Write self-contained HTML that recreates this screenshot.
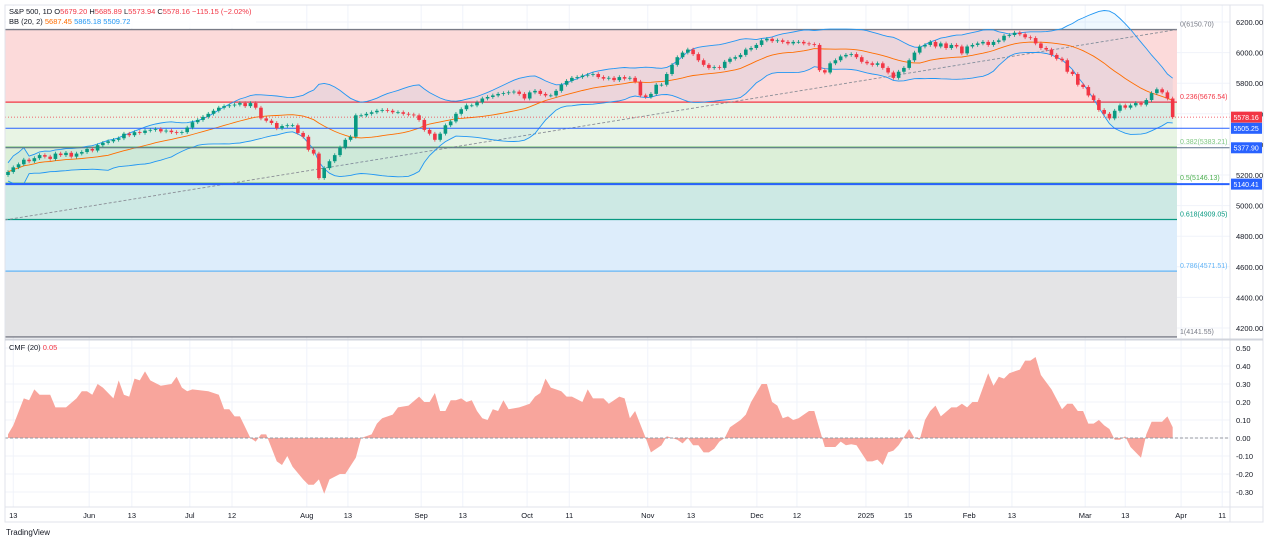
<!DOCTYPE html>
<html><head><meta charset="utf-8"><style>
html,body{margin:0;padding:0;background:#fff;width:1269px;height:542px;overflow:hidden;font-family:"Liberation Sans",sans-serif}
svg{position:absolute;left:0;top:0}
</style></head><body>
<svg id="c" width="1269" height="542"></svg>
<script>
const closes=[5220,5250,5270,5300,5290,5310,5330,5320,5305,5340,5330,5345,5320,5340,5350,5370,5360,5395,5410,5420,5430,5440,5470,5460,5480,5475,5490,5495,5500,5485,5490,5480,5475,5480,5510,5545,5560,5580,5600,5620,5640,5650,5655,5660,5670,5650,5670,5640,5570,5555,5540,5505,5520,5525,5525,5475,5450,5365,5340,5180,5245,5290,5330,5380,5430,5450,5590,5590,5600,5610,5620,5625,5620,5610,5610,5600,5595,5590,5560,5495,5470,5430,5470,5525,5550,5600,5630,5655,5655,5675,5700,5710,5720,5730,5735,5740,5745,5730,5700,5740,5750,5730,5720,5720,5750,5790,5815,5835,5840,5850,5855,5860,5840,5830,5835,5820,5840,5830,5835,5810,5720,5710,5730,5790,5790,5860,5920,5970,6000,6020,5990,5950,5920,5900,5905,5900,5940,5960,5970,5985,6020,6030,6050,6080,6090,6075,6080,6070,6060,6070,6070,6060,6055,6050,5885,5870,5930,5950,5975,5985,5990,5970,5940,5930,5920,5930,5900,5870,5835,5875,5900,5950,6000,6040,6050,6070,6040,6060,6030,6050,6040,5995,6040,6050,6060,6070,6050,6070,6080,6110,6115,6130,6120,6100,6095,6060,6030,6020,5985,5960,5950,5875,5860,5790,5775,5720,5690,5625,5600,5570,5620,5655,5640,5655,5670,5660,5690,5735,5760,5740,5700,5578];
const firstOpen=5200;
const cmfBar=[0,1,3,4,5,6,8,9,10,11,13,14,15,16,17,18,20,21,22,23,24,25,26,27,29,31,32,33,34,35,38,40,41,42,43,44,46,47,48,49,51,52,53,54,56,57,58,59,60,61,63,64,66,67,69,70,71,73,74,76,78,79,80,81,82,83,84,85,86,87,88,89,90,91,92,93,94,95,97,98,99,100,101,102,103,105,106,107,109,110,111,113,114,115,116,117,118,119,121,122,124,125,127,128,129,130,131,132,133,134,135,136,137,139,140,141,143,144,145,146,147,148,149,150,152,153,155,157,158,159,160,161,163,164,165,166,167,168,169,171,172,173,174,175,176,177,179,180,181,182,183,184,186,187,188,189,190,192,193,194,195,196,198,200,201,202,203,204,205,206,207,208,209,210,211,212,213,215,216,217,219,220,221];
const cmfValue=[0.02,0.07,0.22,0.21,0.27,0.24,0.24,0.17,0.17,0.17,0.22,0.26,0.26,0.24,0.30,0.28,0.22,0.32,0.24,0.23,0.33,0.32,0.37,0.32,0.29,0.30,0.34,0.28,0.26,0.27,0.26,0.24,0.16,0.16,0.12,0.12,0,-0.02,0.02,0.02,-0.13,-0.15,-0.10,-0.16,-0.23,-0.26,-0.26,-0.23,-0.31,-0.23,-0.20,-0.20,-0.11,0,0.02,0.08,0.11,0.13,0.17,0.18,0.23,0.20,0.20,0.25,0.15,0.15,0.21,0.21,0.22,0.20,0.21,0.15,0.11,0.10,0.16,0.15,0.21,0.16,0.17,0.18,0.19,0.23,0.25,0.33,0.28,0.26,0.23,0.23,0.20,0.27,0.22,0.22,0.19,0.21,0.23,0.22,0.11,0.15,0,-0.08,-0.04,0.01,-0.01,-0.03,0,-0.04,-0.04,-0.08,-0.08,-0.06,-0.02,0,0.06,0.10,0.13,0.20,0.30,0.30,0.20,0.18,0.11,0.12,0.10,0.11,0.15,0.15,-0.05,-0.05,-0.02,-0.04,-0.035,-0.04,-0.13,-0.13,-0.12,-0.15,-0.08,-0.07,-0.04,0.05,0,-0.01,0.10,0.15,0.18,0.12,0.17,0.17,0.19,0.17,0.20,0.20,0.36,0.29,0.34,0.33,0.36,0.38,0.43,0.43,0.45,0.35,0.27,0.16,0.19,0.19,0.15,0.15,0.08,0.08,0.10,0.07,0.05,-0.01,-0.01,0.01,-0.05,-0.11,0.02,0.09,0.09,0.12,0.06];
const fibRatios=["0","0.236","0.382","0.5","0.618","0.786","1"];
const fibPrices=[6150.70,5676.54,5383.21,5146.13,4909.05,4571.51,4141.55];
const priceTicks=[6200,6000,5800,5600,5400,5200,5000,4800,4600,4400,4200];
const cmfTicks=[0.5,0.4,0.3,0.2,0.1,0,-0.1,-0.2,-0.3];
const timeLabels=["13","Jun","13","Jul","12","Aug","13","Sep","13","Oct","11","Nov","13","Dec","12","2025","15","Feb","13","Mar","13","Apr","11"];
const timeBars=[1,15.4,23.5,34.5,42.5,56.7,64.5,78.4,86.3,98.5,106.5,121.4,129.6,142.1,149.7,162.8,170.8,182.4,190.5,204.4,212,222.6,230.4];
const lastClose=5578.16, bbLowerLast=5505.25, markA=5377.90, markB=5140.41;

const S=document.getElementById('c');const NS='http://www.w3.org/2000/svg';
function el(t,a,p){const e=document.createElementNS(NS,t);for(const k in a)e.setAttribute(k,a[k]);(p||S).appendChild(e);return e;}
const X=i=>8+i*5.27;
const Y=p=>22+(6200-p)*0.153;
const CY=v=>438-v*180;
const PL=5,PR=1230,FR=1177;

let g=el('g',{});
timeBars.forEach(b=>{const x=X(b);if(x<PR){el('line',{x1:x,y1:5,x2:x,y2:507,stroke:'#f0f3fa'},g);}});
priceTicks.forEach(p=>el('line',{x1:PL,y1:Y(p),x2:PR,y2:Y(p),stroke:'#f0f3fa'},g));
cmfTicks.forEach(v=>el('line',{x1:PL,y1:CY(v),x2:PR,y2:CY(v),stroke:'#f0f3fa'},g));

const fibFill=['#fcdada','#e8f4e4','#dcefd8','#cde9e4','#ddedfb','#e4e4e6'];
const fibCol=['#787b86','#f23645','#81c784','#4caf50','#089981','#64b5f6','#787b86'];
let fg=el('g',{});
for(let k=0;k<6;k++){el('rect',{x:PL,y:Y(fibPrices[k]),width:FR-PL,height:Y(fibPrices[k+1])-Y(fibPrices[k]),fill:fibFill[k]},fg);}
for(let k=0;k<7;k++){el('line',{x1:PL,y1:Y(fibPrices[k]),x2:FR,y2:Y(fibPrices[k]),stroke:fibCol[k],'stroke-width':1.3},fg);
 const t=el('text',{x:1180,y:Y(fibPrices[k])-3,fill:fibCol[k],'font-size':7},fg);t.textContent=fibRatios[k]+'('+fibPrices[k].toFixed(2)+')';
 }
let tl=el('line',{x1:PL,y1:Y(fibPrices[6])-117,x2:FR,y2:Y(fibPrices[0]),stroke:'#8a8d96','stroke-dasharray':'3,2','stroke-width':0.9});


const up=[],mid=[],lo=[];
for(let i=0;i<closes.length;i++){const w=closes.slice(Math.max(0,i-19),i+1);const m=w.reduce((a,b)=>a+b,0)/w.length;const sd=Math.sqrt(w.reduce((a,b)=>a+(b-m)*(b-m),0)/w.length);mid.push(m);up.push(m+2*sd+ (w.length<5?60:0));lo.push(m-2*sd-(w.length<5?60:0));}
const pts=a=>a.map((v,i)=>X(i).toFixed(1)+','+Y(v).toFixed(1)).join(' ');
let bf=el('polygon',{points:pts(up)+' '+lo.map((v,i)=>[X(i),Y(v)]).reverse().map(p=>p[0].toFixed(1)+','+p[1].toFixed(1)).join(' '),fill:'rgba(33,150,243,0.07)'});

let bu=el('polyline',{points:pts(up),fill:'none',stroke:'#2196f3','stroke-width':0.9});
let bl=el('polyline',{points:pts(lo),fill:'none',stroke:'#2196f3','stroke-width':0.9});
let bm=el('polyline',{points:pts(mid),fill:'none',stroke:'#ff6d00','stroke-width':0.9});

let h1=el('line',{x1:PL,y1:Y(bbLowerLast),x2:PR,y2:Y(bbLowerLast),stroke:'#2962ff','stroke-width':1});
let h2=el('line',{x1:PL,y1:Y(markA),x2:PR,y2:Y(markA),stroke:'#5a6f8a','stroke-width':1});
let h3=el('line',{x1:PL,y1:Y(markB),x2:PR,y2:Y(markB),stroke:'#2962ff','stroke-width':2});
let h4=el('line',{x1:PL,y1:Y(lastClose),x2:PR,y2:Y(lastClose),stroke:'#f23645','stroke-dasharray':'1,2','stroke-width':0.8});

let cg=el('g',{});
for(let i=0;i<closes.length;i++){const o=i?closes[i-1]:firstOpen,c=closes[i];const col=c>=o?'#089981':'#f23645';const x=X(i);
 const hi=Math.max(o,c)+12,lw=Math.min(o,c)-12;
 el('line',{x1:x,y1:Y(hi),x2:x,y2:Y(lw),stroke:col,'stroke-width':0.8},cg);
 const b=el('rect',{x:x-1.8,y:Y(Math.max(o,c)),width:3.6,height:Math.max(0.8,Math.abs(Y(o)-Y(c))),fill:col},cg);
 }

let cp='M'+X(cmfBar[0])+','+CY(0);cmfBar.forEach((b,k)=>cp+=' L'+X(b).toFixed(1)+','+CY(cmfValue[k]).toFixed(1));cp+=' L'+X(cmfBar[cmfBar.length-1])+','+CY(0)+'Z';
let ca=el('path',{d:cp,fill:'#f8a59c'});
let z=el('line',{x1:PL,y1:CY(0),x2:PR,y2:CY(0),stroke:'#9598a1','stroke-dasharray':'3,2'});

el('rect',{x:PL,y:5,width:1258,height:517,fill:'none',stroke:'#e0e3eb'});
el('line',{x1:PR,y1:5,x2:PR,y2:522,stroke:'#e0e3eb'});
el('line',{x1:PL,y1:339.5,x2:1263,y2:339.5,stroke:'#d1d4dc','stroke-width':2});
el('line',{x1:PL,y1:507,x2:1263,y2:507,stroke:'#e0e3eb'});

priceTicks.forEach(p=>{const t=el('text',{x:1236,y:Y(p)+3,'font-size':7.5,fill:'#131722'});t.textContent=p.toFixed(2);});
cmfTicks.forEach(v=>{const t=el('text',{x:1236,y:CY(v)+3,'font-size':7.5,fill:'#131722'});t.textContent=v.toFixed(2);});
timeLabels.forEach((s,k)=>{const t=el('text',{x:X(timeBars[k]),y:518,'font-size':7.5,fill:'#131722','text-anchor':'middle'});t.textContent=s;});
function tag(p,bg,name){const y=Y(p);el('rect',{x:1231,y:y-5.5,width:31,height:11,fill:bg});const t=el('text',{x:1233.5,y:y+2.7,'font-size':7,fill:'#fff'});t.textContent=p.toFixed(2);}
tag(lastClose,'#f23645','last-price-tag');tag(bbLowerLast,'#2962ff','price-tag-5505');tag(markA,'#2962ff','price-tag-5377');tag(markB,'#2962ff','price-tag-5140');

el('rect',{x:6,y:6,width:250,height:22,fill:'rgba(255,255,255,0.85)'});
const lg=el('text',{x:9,y:14,'font-size':7.5,fill:'#131722'});
lg.innerHTML='S&amp;P 500, 1D  O<tspan fill="#f23645">5679.20</tspan> H<tspan fill="#f23645">5685.89</tspan> L<tspan fill="#f23645">5573.94</tspan> C<tspan fill="#f23645">5578.16 −115.15 (−2.02%)</tspan>';
const lg2=el('text',{x:9,y:24,'font-size':7.5,fill:'#131722'});
lg2.innerHTML='BB (20, 2)  <tspan fill="#ff6d00">5687.45</tspan>  <tspan fill="#2196f3">5865.18</tspan>  <tspan fill="#2196f3">5509.72</tspan>';
const lg3=el('text',{x:9,y:350,'font-size':7.5,fill:'#131722'});
lg3.innerHTML='CMF (20)  <tspan fill="#f23645">0.05</tspan>';
const tv=el('text',{x:6,y:535,'font-size':8,fill:'#131722'});tv.textContent='TradingView';
</script>
</body></html>
